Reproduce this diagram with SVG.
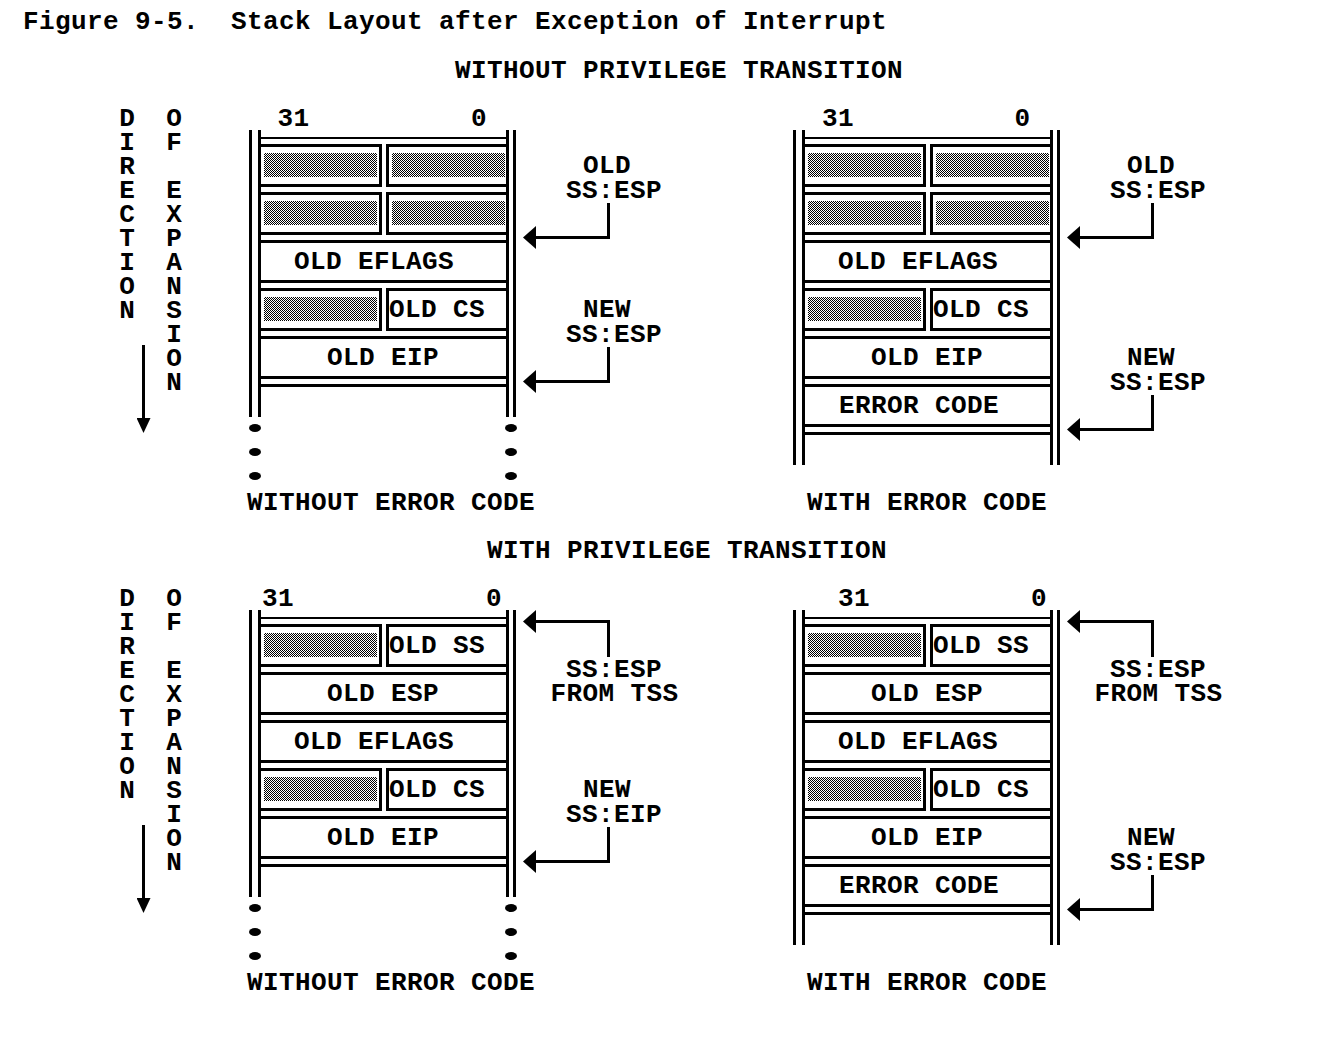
<svg xmlns="http://www.w3.org/2000/svg" width="1343" height="1051" viewBox="0 0 1343 1051">
<defs>
<style>
text{font-family:"Liberation Mono","Courier New",monospace;font-weight:bold;font-size:26px;letter-spacing:0.4px;fill:#000;text-anchor:middle}
.pre{white-space:pre}
.vert{writing-mode:vertical-rl;text-orientation:upright;text-anchor:start;letter-spacing:0;white-space:pre}
.wall{stroke:#000;stroke-width:3;fill:none}
.brk{stroke:#000;stroke-width:2;fill:none}
.cell{stroke:#000;stroke-width:3;fill:#fff}
.shade{fill:url(#dither)}
.dot{fill:#000}
.conn{stroke:#000;stroke-width:3;fill:none}
.arr{marker-end:url(#head)}
.darr{marker-end:url(#headDown)}
</style>
<pattern id="dither" width="2" height="2" patternUnits="userSpaceOnUse">
<rect width="2" height="2" fill="#fff"/>
<rect width="1" height="1" fill="#000"/>
<rect x="1" y="1" width="1" height="1" fill="#000"/>
</pattern>
<marker id="head" markerUnits="userSpaceOnUse" viewBox="0 0 13 23" refX="0" refY="11.5" markerWidth="13" markerHeight="23" orient="auto">
<path d="M0,0 L13,11.5 L0,23 Z" fill="#000"/>
</marker>
<marker id="headDown" markerUnits="userSpaceOnUse" viewBox="0 0 15 14" refX="0" refY="7" markerWidth="15" markerHeight="14" orient="auto">
<path d="M0,0 L15,7 L0,14 Z" fill="#000"/>
</marker>
</defs>
<rect width="1343" height="1051" fill="#fff"/>

<g id="title"><text class="pre" x="455" y="29">Figure 9-5.  Stack Layout after Exception of Interrupt</text></g>
<g id="heading-without"><text x="679" y="78">WITHOUT PRIVILEGE TRANSITION</text></g>
<g id="heading-with"><text x="687" y="558">WITH PRIVILEGE TRANSITION</text></g>

<g id="direction-top">
<text class="vert" x="127" y="104" textLength="222" lengthAdjust="spacing">DIRECTION</text>
<text class="vert" x="174" y="104" textLength="294" lengthAdjust="spacing">OF EXPANSION</text>
</g>
<g id="direction-bottom">
<text class="vert" x="127" y="584" textLength="222" lengthAdjust="spacing">DIRECTION</text>
<text class="vert" x="174" y="584" textLength="294" lengthAdjust="spacing">OF EXPANSION</text>
</g>

<!-- Stack: top-left -->
<g id="stack-top-left">
<text x="293.5" y="126">31</text><text x="479" y="126">0</text>
<path class="wall" d="M250.5,130V417M259.5,130V417M507.5,130V417M514.5,130V417"/>
<path class="brk" d="M258,138H509"/>
<rect class="cell" x="259.5" y="145.5" width="121" height="40"/><rect class="cell" x="387.5" y="145.5" width="120" height="40"/>
<rect class="shade" x="264" y="153" width="113" height="24"/><rect class="shade" x="392" y="153" width="113" height="24"/>
<rect class="cell" x="259.5" y="193.5" width="121" height="40"/><rect class="cell" x="387.5" y="193.5" width="120" height="40"/>
<rect class="shade" x="264" y="201" width="113" height="24"/><rect class="shade" x="392" y="201" width="113" height="24"/>
<rect class="cell" x="259.5" y="241.5" width="248" height="40"/><text x="374" y="269">OLD EFLAGS</text>
<rect class="cell" x="259.5" y="289.5" width="121" height="40"/><rect class="cell" x="387.5" y="289.5" width="120" height="40"/>
<rect class="shade" x="264" y="297" width="113" height="24"/><text x="437" y="317">OLD CS</text>
<rect class="cell" x="259.5" y="337.5" width="248" height="40"/><text x="383" y="365">OLD EIP</text>
<path class="wall" d="M258,385.5H509"/>
<ellipse class="dot" cx="255" cy="428" rx="6" ry="4"/><ellipse class="dot" cx="255" cy="452" rx="6" ry="4"/><ellipse class="dot" cx="255" cy="476" rx="6" ry="4"/>
<ellipse class="dot" cx="511" cy="428" rx="6" ry="4"/><ellipse class="dot" cx="511" cy="452" rx="6" ry="4"/><ellipse class="dot" cx="511" cy="476" rx="6" ry="4"/>
</g>
<g id="caption-top-left"><text x="391" y="510">WITHOUT ERROR CODE</text></g>

<!-- Stack: top-right -->
<g id="stack-top-right">
<text x="838" y="126">31</text><text x="1022.5" y="126">0</text>
<path class="wall" d="M794.5,130V465M803.5,130V465M1051.5,130V465M1058.5,130V465"/>
<path class="brk" d="M802,138H1053"/>
<rect class="cell" x="803.5" y="145.5" width="121" height="40"/><rect class="cell" x="931.5" y="145.5" width="120" height="40"/>
<rect class="shade" x="808" y="153" width="113" height="24"/><rect class="shade" x="936" y="153" width="113" height="24"/>
<rect class="cell" x="803.5" y="193.5" width="121" height="40"/><rect class="cell" x="931.5" y="193.5" width="120" height="40"/>
<rect class="shade" x="808" y="201" width="113" height="24"/><rect class="shade" x="936" y="201" width="113" height="24"/>
<rect class="cell" x="803.5" y="241.5" width="248" height="40"/><text x="918" y="269">OLD EFLAGS</text>
<rect class="cell" x="803.5" y="289.5" width="121" height="40"/><rect class="cell" x="931.5" y="289.5" width="120" height="40"/>
<rect class="shade" x="808" y="297" width="113" height="24"/><text x="981" y="317">OLD CS</text>
<rect class="cell" x="803.5" y="337.5" width="248" height="40"/><text x="927" y="365">OLD EIP</text>
<rect class="cell" x="803.5" y="385.5" width="248" height="40"/><text x="919" y="413">ERROR CODE</text>
<path class="wall" d="M802,433.5H1053"/>
</g>
<g id="caption-top-right"><text x="927" y="510">WITH ERROR CODE</text></g>

<!-- Stack: bottom-left -->
<g id="stack-bottom-left">
<text x="278" y="606">31</text><text x="494" y="606">0</text>
<path class="wall" d="M250.5,610V897M259.5,610V897M507.5,610V897M514.5,610V897"/>
<path class="brk" d="M258,618H509"/>
<rect class="cell" x="259.5" y="625.5" width="121" height="40"/><rect class="cell" x="387.5" y="625.5" width="120" height="40"/>
<rect class="shade" x="264" y="633" width="113" height="24"/><text x="437" y="653">OLD SS</text>
<rect class="cell" x="259.5" y="673.5" width="248" height="40"/><text x="383" y="701">OLD ESP</text>
<rect class="cell" x="259.5" y="721.5" width="248" height="40"/><text x="374" y="749">OLD EFLAGS</text>
<rect class="cell" x="259.5" y="769.5" width="121" height="40"/><rect class="cell" x="387.5" y="769.5" width="120" height="40"/>
<rect class="shade" x="264" y="777" width="113" height="24"/><text x="437" y="797">OLD CS</text>
<rect class="cell" x="259.5" y="817.5" width="248" height="40"/><text x="383" y="845">OLD EIP</text>
<path class="wall" d="M258,865.5H509"/>
<ellipse class="dot" cx="255" cy="908" rx="6" ry="4"/><ellipse class="dot" cx="255" cy="932" rx="6" ry="4"/><ellipse class="dot" cx="255" cy="956" rx="6" ry="4"/>
<ellipse class="dot" cx="511" cy="908" rx="6" ry="4"/><ellipse class="dot" cx="511" cy="932" rx="6" ry="4"/><ellipse class="dot" cx="511" cy="956" rx="6" ry="4"/>
</g>
<g id="caption-bottom-left"><text x="391" y="990">WITHOUT ERROR CODE</text></g>

<!-- Stack: bottom-right -->
<g id="stack-bottom-right">
<text x="854" y="606">31</text><text x="1039" y="606">0</text>
<path class="wall" d="M794.5,610V945M803.5,610V945M1051.5,610V945M1058.5,610V945"/>
<path class="brk" d="M802,618H1053"/>
<rect class="cell" x="803.5" y="625.5" width="121" height="40"/><rect class="cell" x="931.5" y="625.5" width="120" height="40"/>
<rect class="shade" x="808" y="633" width="113" height="24"/><text x="981" y="653">OLD SS</text>
<rect class="cell" x="803.5" y="673.5" width="248" height="40"/><text x="927" y="701">OLD ESP</text>
<rect class="cell" x="803.5" y="721.5" width="248" height="40"/><text x="918" y="749">OLD EFLAGS</text>
<rect class="cell" x="803.5" y="769.5" width="121" height="40"/><rect class="cell" x="931.5" y="769.5" width="120" height="40"/>
<rect class="shade" x="808" y="777" width="113" height="24"/><text x="981" y="797">OLD CS</text>
<rect class="cell" x="803.5" y="817.5" width="248" height="40"/><text x="927" y="845">OLD EIP</text>
<rect class="cell" x="803.5" y="865.5" width="248" height="40"/><text x="919" y="893">ERROR CODE</text>
<path class="wall" d="M802,913.5H1053"/>
</g>
<g id="caption-bottom-right"><text x="927" y="990">WITH ERROR CODE</text></g>

<!-- Pointer labels -->
<g id="label-tl-old"><text><tspan x="607" y="173">OLD</tspan><tspan x="614" y="198">SS:ESP</tspan></text></g>
<g id="label-tl-new"><text><tspan x="607" y="317">NEW</tspan><tspan x="614" y="342">SS:ESP</tspan></text></g>
<g id="label-tr-old"><text><tspan x="1151" y="173">OLD</tspan><tspan x="1158" y="198">SS:ESP</tspan></text></g>
<g id="label-tr-new"><text><tspan x="1151" y="365">NEW</tspan><tspan x="1158" y="390">SS:ESP</tspan></text></g>
<g id="label-bl-tss"><text><tspan x="614" y="677">SS:ESP</tspan><tspan x="614.5" y="701">FROM TSS</tspan></text></g>
<g id="label-bl-new"><text><tspan x="607" y="797">NEW</tspan><tspan x="614" y="822">SS:EIP</tspan></text></g>
<g id="label-br-tss"><text><tspan x="1158" y="677">SS:ESP</tspan><tspan x="1158.5" y="701">FROM TSS</tspan></text></g>
<g id="label-br-new"><text><tspan x="1151" y="845">NEW</tspan><tspan x="1158" y="870">SS:ESP</tspan></text></g>

<g id="connectors">
<path class="conn arr" d="M608.5,203V237.5H536"/>
<path class="conn arr" d="M608.5,347V381.5H536"/>
<path class="conn arr" d="M1152.5,203V237.5H1080"/>
<path class="conn arr" d="M1152.5,395V429.5H1080"/>
<path class="conn arr" d="M608.5,657V621.5H536"/>
<path class="conn arr" d="M608.5,827V861.5H536"/>
<path class="conn arr" d="M1152.5,657V621.5H1080"/>
<path class="conn arr" d="M1152.5,875V909.5H1080"/>
<path class="conn darr" d="M143.5,345V418"/>
<path class="conn darr" d="M143.5,825V898"/>
</g>
</svg>
